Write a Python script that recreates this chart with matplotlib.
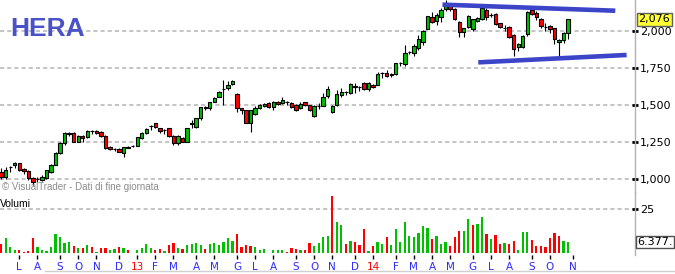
import matplotlib
matplotlib.use('Agg')
import matplotlib.pyplot as plt
from matplotlib.lines import Line2D

# weekly candles, Jul 2012 -> Nov 2014
opens = [1.045, 1.014, 1.082, 1.090, 1.104, 1.068, 1.054, 1.003, 0.998, 0.990,
         1.003, 1.047, 1.093, 1.172, 1.239, 1.307, 1.307, 1.250, 1.289, 1.280,
         1.322, 1.324, 1.318, 1.289, 1.215, 1.201, 1.199, 1.176, 1.212, 1.221,
         1.221, 1.277, 1.311, 1.356, 1.374, 1.340, 1.329, 1.340, 1.289, 1.239,
         1.275, 1.250, 1.374, 1.347, 1.408, 1.482, 1.476, 1.520, 1.554, 1.606,
         1.611, 1.638, 1.572, 1.476, 1.462, 1.374, 1.435, 1.476, 1.489, 1.510,
         1.482, 1.520, 1.510, 1.521, 1.510, 1.498, 1.476, 1.516, 1.498, 1.426,
         1.494, 1.493, 1.561, 1.453, 1.496, 1.568, 1.585, 1.581, 1.623, 1.619,
         1.644, 1.606, 1.635, 1.635, 1.713, 1.712, 1.706, 1.707, 1.781, 1.775,
         1.855, 1.847, 1.881, 1.926, 2.014, 2.090, 2.068, 2.090, 2.145, 2.180,
         2.145, 2.061, 1.993, 2.023, 2.010, 2.068, 2.077, 2.140, 2.106, 2.113,
         2.050, 2.021, 2.023, 1.971, 1.892, 1.892, 1.978, 2.140, 2.122, 2.077,
         2.028, 2.032, 2.016, 1.922, 1.937, 1.986]
highs = [1.070, 1.080, 1.088, 1.112, 1.108, 1.072, 1.058, 1.010, 1.010, 1.025,
         1.060, 1.100, 1.180, 1.245, 1.315, 1.318, 1.315, 1.295, 1.292, 1.330,
         1.330, 1.330, 1.325, 1.292, 1.220, 1.210, 1.205, 1.215, 1.218, 1.225,
         1.283, 1.315, 1.340, 1.360, 1.377, 1.345, 1.335, 1.345, 1.292, 1.292,
         1.280, 1.342, 1.395, 1.410, 1.485, 1.490, 1.520, 1.550, 1.590, 1.668,
         1.660, 1.665, 1.578, 1.480, 1.465, 1.465, 1.490, 1.505, 1.510, 1.515,
         1.525, 1.525, 1.550, 1.525, 1.515, 1.505, 1.515, 1.520, 1.500, 1.500,
         1.510, 1.580, 1.625, 1.500, 1.600, 1.615, 1.595, 1.645, 1.645, 1.625,
         1.650, 1.650, 1.640, 1.720, 1.720, 1.735, 1.715, 1.785, 1.790, 1.900,
         1.865, 1.910, 1.970, 2.005, 2.100, 2.125, 2.120, 2.155, 2.205, 2.190,
         2.150, 2.065, 2.020, 2.105, 2.080, 2.095, 2.165, 2.150, 2.120, 2.120,
         2.055, 2.040, 2.030, 1.975, 1.915, 1.968, 2.135, 2.150, 2.130, 2.085,
         2.055, 2.040, 2.020, 1.945, 1.990, 2.080]
lows = [1.000, 1.000, 1.043, 1.075, 1.050, 1.030, 0.990, 0.957, 0.975, 0.985,
        0.995, 1.040, 1.090, 1.165, 1.230, 1.290, 1.245, 1.245, 1.250, 1.275,
        1.300, 1.300, 1.280, 1.200, 1.195, 1.190, 1.180, 1.150, 1.205, 1.215,
        1.218, 1.270, 1.305, 1.330, 1.345, 1.310, 1.300, 1.285, 1.225, 1.225,
        1.245, 1.245, 1.345, 1.340, 1.400, 1.465, 1.465, 1.515, 1.550, 1.497,
        1.600, 1.632, 1.450, 1.435, 1.374, 1.318, 1.430, 1.470, 1.485, 1.478,
        1.465, 1.500, 1.505, 1.500, 1.480, 1.460, 1.470, 1.490, 1.455, 1.420,
        1.470, 1.490, 1.545, 1.445, 1.490, 1.555, 1.565, 1.575, 1.580, 1.590,
        1.600, 1.595, 1.615, 1.630, 1.680, 1.685, 1.685, 1.700, 1.760, 1.760,
        1.840, 1.830, 1.870, 1.900, 2.010, 2.050, 2.040, 2.060, 2.130, 2.135,
        2.070, 1.955, 1.955, 2.020, 2.000, 2.060, 2.070, 2.070, 2.090, 2.040,
        2.015, 2.000, 1.950, 1.830, 1.860, 1.885, 1.965, 2.105, 2.075, 2.020,
        2.000, 1.985, 1.910, 1.829, 1.915, 1.945]
closes = [1.014, 1.059, 1.080, 1.104, 1.059, 1.050, 1.003, 0.980, 0.995, 1.014,
          1.059, 1.093, 1.172, 1.239, 1.311, 1.305, 1.250, 1.289, 1.273, 1.324,
          1.320, 1.307, 1.289, 1.205, 1.199, 1.199, 1.182, 1.212, 1.210, 1.219,
          1.280, 1.311, 1.334, 1.354, 1.351, 1.324, 1.327, 1.289, 1.239, 1.289,
          1.250, 1.340, 1.372, 1.408, 1.482, 1.480, 1.516, 1.543, 1.584, 1.604,
          1.633, 1.659, 1.476, 1.462, 1.374, 1.462, 1.480, 1.498, 1.503, 1.482,
          1.520, 1.507, 1.532, 1.519, 1.486, 1.464, 1.503, 1.498, 1.464, 1.493,
          1.492, 1.554, 1.606, 1.493, 1.570, 1.586, 1.583, 1.638, 1.621, 1.617,
          1.606, 1.644, 1.622, 1.707, 1.711, 1.694, 1.704, 1.780, 1.779, 1.847,
          1.853, 1.897, 1.942, 1.998, 2.099, 2.057, 2.106, 2.140, 2.189, 2.145,
          2.077, 1.993, 2.016, 2.099, 2.077, 2.084, 2.151, 2.090, 2.104, 2.045,
          2.023, 2.019, 1.955, 1.874, 1.910, 1.964, 2.128, 2.113, 2.090, 2.032,
          2.026, 2.009, 1.942, 1.934, 1.982, 2.076]

# volumes (millions) and colour of each volume bar (g = up, r = down)
volumes = [5.3, 8.5, 3.4, 1.9, 1.9, 0.8, 1.3, 8.7, 3.6, 1.9,
           1.3, 3.6, 11.0, 9.3, 5.9, 6.4, 4.2, 3.0, 3.0, 4.7,
           3.8, 0.8, 3.0, 3.0, 1.9, 2.5, 3.6, 3.0, 1.9, 0.4,
           1.9, 3.0, 5.3, 3.0, 1.9, 2.5, 1.3, 4.7, 5.9, 3.0,
           2.5, 4.7, 5.3, 5.9, 4.7, 2.5, 5.3, 5.9, 4.7, 6.4,
           8.7, 7.0, 11.0, 3.6, 4.7, 4.2, 3.6, 1.9, 2.5, 0.4,
           1.9, 1.9, 1.9, 0.8, 3.0, 2.5, 1.9, 1.9, 5.9, 4.2,
           5.9, 9.3, 9.8, 32.6, 17.8, 16.1, 5.3, 7.0, 6.4, 4.7,
           13.8, 1.3, 4.2, 6.4, 5.3, 9.3, 4.7, 13.8, 6.4, 17.8,
           9.8, 9.3, 11.6, 15.5, 14.4, 8.1, 9.8, 5.3, 6.4, 4.2,
           9.3, 12.7, 12.7, 19.5, 16.1, 16.7, 20.6, 11.0, 8.1, 10.4,
           5.3, 5.9, 5.3, 7.0, 1.9, 12.1, 12.1, 7.6, 4.2, 4.2,
           3.6, 8.7, 11.6, 9.8, 7.0, 6.377]
vol_dir = ("rgggrrrrgg" "ggggggrgrg" "rgrrggrgrg" "ggggrrgrrg" "rggggrgggg"
           "ggrrrrgggr" "gggrrrgrrg" "gggrggrgrr" "rgrggrgggg" "gggggrgggr"
           "rrggrggrgr" "rgrrgggrrr" "rrrrgg")

month_ticks = [4, 8, 13, 17, 21, 26, 30, 34, 38, 43, 47, 52, 56, 60, 65,
               69, 73, 78, 82, 87, 91, 95, 99, 104, 108, 112, 117, 121, 126]
month_labels = ['L', 'A', 'S', 'O', 'N', 'D', '13', 'F', 'M', 'A', 'M', 'G',
                'L', 'A', 'S', 'O', 'N', 'D', '14', 'F', 'M', 'A', 'M', 'G',
                'L', 'A', 'S', 'O', 'N']
price_ticks = [1.0, 1.25, 1.5, 1.75, 2.0]
last_close = 2.076
last_volume_label = '6.377.'

# channel drawn on the chart (week index, price)
upper_x, upper_y = [97.3, 135.4], [2.176, 2.135]
lower_x, lower_y = [105.2, 137.9], [1.786, 1.836]

GREEN = '#00c000'
RED = '#ff0000'
BLUE = '#2b2bff'
GRID = '#b4b4b4'

plt.rcParams['font.family'] = 'DejaVu Sans'

W, H = 675, 274
fig = plt.figure(figsize=(W / 100, H / 100), dpi=100)
ax = fig.add_axes([0, 81 / H, 635 / W, 193 / H])
axv = fig.add_axes([0, 19 / H, 635 / W, 62 / H])

idx = list(range(len(closes)))

# wicks then bodies
ax.vlines(idx, lows, highs, color='black', linewidth=0.8, zorder=2)
bottoms = [min(o, c) for o, c in zip(opens, closes)]
heights = [max(abs(c - o), 0.002) for o, c in zip(opens, closes)]
colors = [GREEN if c > o else (RED if c < o else 'black') for o, c in zip(opens, closes)]
ax.bar(idx, heights, bottom=bottoms, width=0.75, color=colors,
       edgecolor='black', linewidth=0.8, zorder=3)

# trend channel
ax.plot(upper_x, upper_y, color='#3c44c8', linewidth=3.3, solid_capstyle='butt', zorder=4)
ax.plot(lower_x, lower_y, color='#3c44c8', linewidth=3.3, solid_capstyle='butt', zorder=4)

# volumes
vcolors = [GREEN if d == 'g' else RED for d in vol_dir]
axv.bar(idx, volumes, width=0.5, color=vcolors, linewidth=0, zorder=3)

for a in (ax, axv):
    a.set_xlim(-0.25, 139.75)
    for s in ('left', 'top', 'bottom'):
        a.spines[s].set_visible(False)
    a.spines['right'].set_color('#b0b0b0')
    a.spines['right'].set_linewidth(1)
    a.yaxis.tick_right()
    a.tick_params(axis='y', direction='inout', length=5, width=2, pad=1,
                  labelsize=8, colors='black')
    a.grid(axis='y', color=GRID, linestyle=(0, (2.7, 2)), linewidth=1.1)
    a.set_axisbelow(True)
    a.patch.set_alpha(0)

ax.set_ylim(0.9034, 2.2074)
ax.set_yticks(price_ticks)
ax.set_yticklabels([f"{v:.3f}".replace('.', ',') for v in price_ticks])
ax.set_xticks([])

axv.set_ylim(-0.97, 34.26)
axv.set_yticks([25])
axv.set_yticklabels(['25'])
axv.set_xticks(month_ticks)
axv.set_xticklabels(month_labels)
axv.tick_params(axis='x', direction='out', length=3, width=1, pad=1.8, labelsize=7.5)
for tick, lab in zip(axv.xaxis.get_major_ticks(), month_labels):
    c = RED if lab in ('13', '14') else BLUE
    tick.tick1line.set_color(c)
    tick.label1.set_color(c)

# last price / last volume boxes
ax.annotate(f"{last_close:.3f}".replace('.', ','), xy=(1, last_close),
            xycoords=ax.get_yaxis_transform(), xytext=(2.5, 0), textcoords='offset points',
            ha='left', va='center', fontsize=8, annotation_clip=False, zorder=6,
            bbox=dict(boxstyle='square,pad=0.12', fc='#ffff33', ec='#606060', lw=1))
axv.annotate(last_volume_label, xy=(1, volumes[-1]),
             xycoords=axv.get_yaxis_transform(), xytext=(1.5, 0), textcoords='offset points',
             ha='left', va='center', fontsize=8, annotation_clip=False, zorder=6,
             bbox=dict(boxstyle='square,pad=0.12', fc='white', ec='#505050', lw=1))

fig.text(10 / W, 1 - 36 / H, 'HERA', ha='left', va='baseline', fontsize=19,
         fontweight='bold', color='#4a52c8',
         family=['Liberation Sans Narrow', 'Liberation Sans', 'DejaVu Sans'])
fig.text(2 / W, 1 - 190 / H, '\u00a9 VisualTrader - Dati di fine giornata', ha='left',
         va='baseline', fontsize=7, color='#8c8c8c', family=['Liberation Sans', 'DejaVu Sans'])
fig.text(0, 1 - 207 / H, 'Volumi', ha='left', va='baseline', fontsize=7.5,
         color='black', family=['Liberation Sans', 'DejaVu Sans'])

fig.add_artist(Line2D([45 / W, 1], [1 - 270.5 / H] * 2, color='#d0d0d0', linewidth=1))

fig.savefig('out.png', dpi=100)
